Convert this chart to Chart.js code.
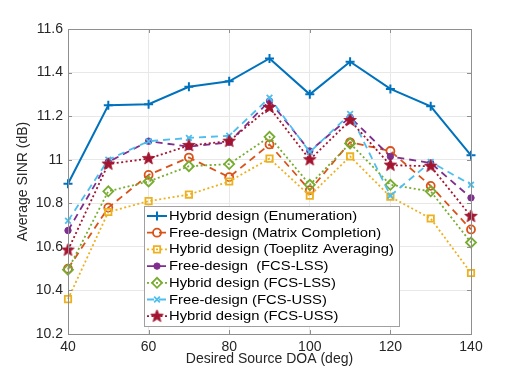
<!DOCTYPE html>
<html>
<head>
<meta charset="utf-8">
<script src="https://cdn.jsdelivr.net/npm/chart.js@4.4.0/dist/chart.umd.min.js"></script>
<style>
  html, body { margin: 0; padding: 0; background: #fff; }
  #wrap { width: 520px; height: 376px; }
</style>
</head>
<body>
<div id="wrap"><canvas id="chart" width="520" height="376"></canvas></div>
<script>
// Podaci ocitani sa slike
const doa = [40, 50, 60, 70, 80, 90, 100, 110, 120, 130, 140];
const xTicks = [40, 60, 80, 100, 120, 140];
const yTicks = [10.2, 10.4, 10.6, 10.8, 11, 11.2, 11.4, 11.6];

const hybridEnum = [10.89, 11.25, 11.255, 11.335, 11.36, 11.465, 11.30, 11.45, 11.325, 11.245, 11.02];
const freeMC = [10.50, 10.78, 10.93, 11.01, 10.92, 11.07, 10.86, 11.08, 11.04, 10.88, 10.68];
const hybridToeplitz = [10.36, 10.76, 10.81, 10.84, 10.90, 11.005, 10.835, 11.015, 10.83, 10.73, 10.48];
const freeLSS = [10.675, 10.99, 11.085, 11.06, 11.08, 11.27, 11.04, 11.195, 11.015, 10.985, 10.825];
const hybridLSS = [10.495, 10.855, 10.90, 10.97, 10.98, 11.105, 10.885, 11.075, 10.885, 10.855, 10.62];
const freeUSS = [10.72, 11.00, 11.085, 11.10, 11.11, 11.285, 11.035, 11.21, 10.835, 10.99, 10.885];
const hybridUSS = [10.585, 10.98, 11.005, 11.065, 11.085, 11.24, 11.0, 11.18, 10.975, 10.97, 10.74];

const seriesNames = [
  "Hybrid design (Enumeration)",
  "Free-design (Matrix Completion)",
  "Hybrid design (Toeplitz Averaging)",
  "Free-design  (FCS-LSS)",
  "Hybrid design (FCS-LSS)",
  "Free-design (FCS-USS)",
  "Hybrid design (FCS-USS)"
];

// Pentagram marker (kao u MATLAB-u)
function makeStar(color, r) {
  const c = document.createElement("canvas");
  const s = Math.ceil(r * 2 + 2);
  c.width = s; c.height = s;
  const g = c.getContext("2d");
  const cx = s / 2, cy = s / 2, ri = r * 0.42;
  g.beginPath();
  for (let i = 0; i < 10; i++) {
    const rad = i % 2 === 0 ? r : ri;
    const a = -Math.PI / 2 + i * Math.PI / 5;
    const px = cx + rad * Math.cos(a), py = cy + rad * Math.sin(a);
    if (i === 0) g.moveTo(px, py); else g.lineTo(px, py);
  }
  g.closePath();
  g.fillStyle = color;
  g.fill();
  g.strokeStyle = color;
  g.lineWidth = 1;
  g.stroke();
  return c;
}
const starImg = makeStar("#A2142F", 6.5);

function pts(arr) {
  return doa.map((d, i) => ({ x: d, y: arr[i] }));
}

const datasets = [
  { label: seriesNames[0], data: pts(hybridEnum), borderColor: "#0072BD", backgroundColor: "rgba(0,0,0,0)",
    borderWidth: 2, borderDash: [], pointStyle: "cross", pointRadius: 4.5, pointBorderWidth: 2 },
  { label: seriesNames[1], data: pts(freeMC), borderColor: "#D95319", backgroundColor: "rgba(0,0,0,0)",
    borderWidth: 1.8, borderDash: [7, 5], pointStyle: "circle", pointRadius: 4, pointBorderWidth: 1.8 },
  { label: seriesNames[2], data: pts(hybridToeplitz), borderColor: "#EDB120", backgroundColor: "rgba(0,0,0,0)",
    borderWidth: 1.8, borderDash: [2, 2.5], pointStyle: "rect", pointRadius: 4.5, pointBorderWidth: 1.8 },
  { label: seriesNames[3], data: pts(freeLSS), borderColor: "#7E2F8E", backgroundColor: "#7E2F8E",
    borderWidth: 1.8, borderDash: [7, 5], pointStyle: "circle", pointRadius: 3.2, pointBorderWidth: 1 },
  { label: seriesNames[4], data: pts(hybridLSS), borderColor: "#77AC30", backgroundColor: "rgba(0,0,0,0)",
    borderWidth: 1.8, borderDash: [2, 2.5], pointStyle: "rectRot", pointRadius: 5, pointBorderWidth: 1.8 },
  { label: seriesNames[5], data: pts(freeUSS), borderColor: "#4DBEEE", backgroundColor: "rgba(0,0,0,0)",
    borderWidth: 1.8, borderDash: [7, 5], pointStyle: "crossRot", pointRadius: 4, pointBorderWidth: 1.8 },
  { label: seriesNames[6], data: pts(hybridUSS), borderColor: "#A2142F", backgroundColor: "#A2142F",
    borderWidth: 1.8, borderDash: [2, 2.5], pointStyle: starImg, pointRadius: 6, pointBorderWidth: 1 }
];
datasets.forEach((d, i) => {
  d.fill = false;
  d.tension = 0;
  d.clip = false;
  d.order = 10 - i;
  d.pointBackgroundColor = d.backgroundColor;
  d.pointBorderColor = d.borderColor;
});

// Okvir osi, unutarnje oznake i legenda
const matlabAxes = {
  id: "matlabAxes",
  afterDatasetsDraw(chart) {
    const ctx = chart.ctx;
    const a = chart.chartArea;
    const xs = chart.scales.x, ys = chart.scales.y;
    ctx.save();
    ctx.strokeStyle = "#8f8f8f";
    ctx.lineWidth = 1;
    ctx.strokeRect(Math.round(a.left) + 0.5, Math.round(a.top) + 0.5,
      Math.round(a.right - a.left), Math.round(a.bottom - a.top));
    ctx.beginPath();
    xTicks.forEach(v => {
      const px = Math.round(xs.getPixelForValue(v)) + 0.5;
      ctx.moveTo(px, a.bottom); ctx.lineTo(px, a.bottom - 4);
      ctx.moveTo(px, a.top); ctx.lineTo(px, a.top + 4);
    });
    yTicks.forEach(v => {
      const py = Math.round(ys.getPixelForValue(v)) + 0.5;
      ctx.moveTo(a.left, py); ctx.lineTo(a.left + 4, py);
      ctx.moveTo(a.right, py); ctx.lineTo(a.right - 4, py);
    });
    ctx.stroke();

    // legenda
    const lx = 144, ly = 206, lw = 255, lh = 120;
    ctx.fillStyle = "#fff";
    ctx.fillRect(lx, ly, lw, lh);
    ctx.strokeStyle = "#a0a0a0";
    ctx.strokeRect(lx + 0.5, ly + 0.5, lw, lh);
    ctx.font = "13px 'Liberation Sans', Arial, sans-serif";
    ctx.textBaseline = "middle";
    ctx.textAlign = "left";
    // tekst legende je u originalu malo razvucen vodoravno
    const longest = Math.max(...seriesNames.map(s => ctx.measureText(s).width));
    const sx = 225 / longest;
    datasets.forEach((d, i) => {
      const cy = ly + 10 + i * 16.7;
      ctx.save();
      ctx.strokeStyle = d.borderColor;
      ctx.lineWidth = d.borderWidth;
      ctx.setLineDash(d.borderDash);
      ctx.beginPath();
      ctx.moveTo(lx + 3, cy); ctx.lineTo(lx + 23, cy);
      ctx.stroke();
      ctx.setLineDash([]);
      ctx.fillStyle = d.backgroundColor;
      ctx.lineWidth = d.pointBorderWidth;
      Chart.helpers.drawPoint(ctx, {
        pointStyle: d.pointStyle, rotation: 0, radius: d.pointRadius, borderWidth: d.pointBorderWidth
      }, lx + 13, cy);
      ctx.restore();
      ctx.save();
      ctx.translate(lx + 25, cy + 0.5);
      ctx.scale(sx, 1);
      ctx.fillStyle = "#000";
      ctx.fillText(d.label, 0, 0);
      ctx.restore();
    });
    ctx.restore();
  }
};

const tickFont = { family: "'Liberation Sans', Arial, sans-serif", size: 14 };

new Chart(document.getElementById("chart").getContext("2d"), {
  type: "line",
  data: { datasets: datasets },
  options: {
    responsive: false,
    animation: false,
    layout: { padding: { left: 0, right: 49, top: 29, bottom: 0 } },
    plugins: { legend: { display: false }, tooltip: { enabled: false } },
    scales: {
      x: {
        type: "linear",
        min: 40,
        max: 140,
        afterBuildTicks: s => { s.ticks = xTicks.map(v => ({ value: v })); },
        afterFit: s => { s.height = 42; },
        grid: { color: "#e8e8e8", drawTicks: false },
        border: { display: false },
        ticks: { font: tickFont, color: "#262626", padding: 5, maxRotation: 0 },
        title: { display: true, text: "Desired Source DOA (deg)", font: tickFont, color: "#262626",
          padding: { top: 0, bottom: 8 } }
      },
      y: {
        min: 10.2,
        max: 11.6,
        afterBuildTicks: s => { s.ticks = yTicks.map(v => ({ value: v })); },
        afterFit: s => { s.width = 68; },
        grid: { color: "#e8e8e8", drawTicks: false },
        border: { display: false },
        ticks: { font: tickFont, color: "#262626", padding: 5,
          callback: v => String(Number(v.toFixed(1))) },
        title: { display: true, text: "Average SINR (dB)", font: tickFont, color: "#262626",
          padding: { top: 15, bottom: 0 } }
      }
    }
  },
  plugins: [matlabAxes]
});
</script>
</body>
</html>
